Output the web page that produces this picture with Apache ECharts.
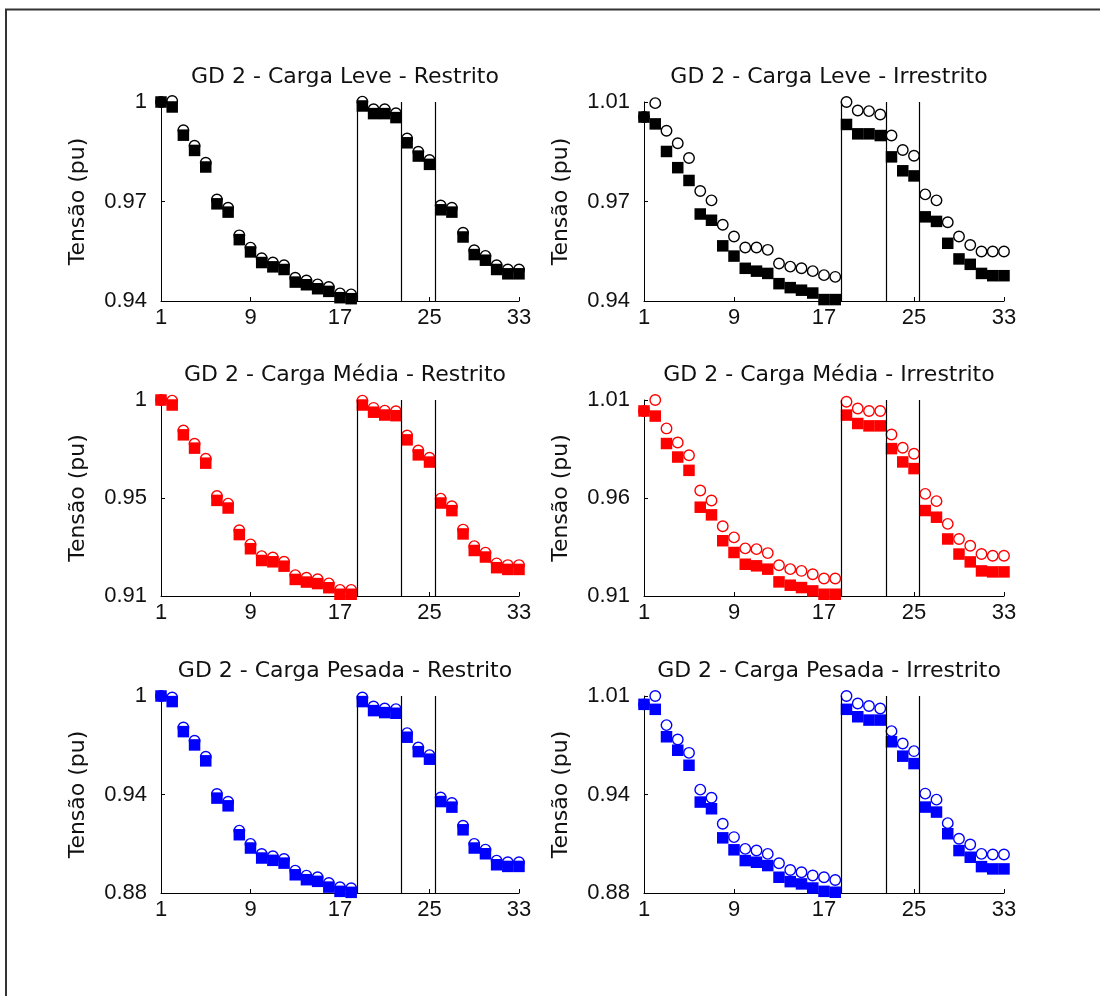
<!DOCTYPE html>
<html>
<head>
<meta charset="utf-8">
<script src="https://cdn.jsdelivr.net/npm/echarts@6/dist/echarts.min.js"></script>
<style>html,body{margin:0;padding:0;background:#fff}#c{width:1100px;height:996px}</style>
</head>
<body>
<div id="c"></div>
<script>
// ---------- data ----------
const buses = [1,2,3,4,5,6,7,8,9,10,11,12,13,14,15,16,17,18,19,20,21,22,23,24,25,26,27,28,29,30,31,32,33];
const xTickValues = [1, 9, 17, 25, 33];
const separators = [18.5, 22.5, 25.5];

const titles = [
  'GD 2 - Carga Leve - Restrito',
  'GD 2 - Carga Leve - Irrestrito',
  'GD 2 - Carga Média - Restrito',
  'GD 2 - Carga Média - Irrestrito',
  'GD 2 - Carga Pesada - Restrito',
  'GD 2 - Carga Pesada - Irrestrito'
];
const yAxisName = 'Tensão (pu)';
const yMin = [0.94, 0.94, 0.91, 0.91, 0.88, 0.88];
const yMax = [1.00, 1.01, 1.00, 1.01, 1.00, 1.01];
const yTickValues = [
  [0.94, 0.97, 1.00],
  [0.94, 0.975, 1.01],
  [0.91, 0.955, 1.00],
  [0.91, 0.96, 1.01],
  [0.88, 0.94, 1.00],
  [0.88, 0.945, 1.01]
];
const yTickLabels = [
  ['0.94', '0.97', '1'],
  ['0.94', '0.97', '1.01'],
  ['0.91', '0.95', '1'],
  ['0.91', '0.96', '1.01'],
  ['0.88', '0.94', '1'],
  ['0.88', '0.94', '1.01']
];
const panelColors = ['#000000', '#000000', '#ff0000', '#ff0000', '#0000ff', '#0000ff'];

// squares (filled) and circles (open), one pair per panel
const leveRestritoSq = [1.000,0.9985,0.9900,0.9854,0.9804,0.9693,0.9668,0.9585,0.9548,0.9516,0.9503,0.9495,0.9457,0.9449,0.9437,0.9429,0.9410,0.9407,0.9988,0.9965,0.9965,0.9953,0.9877,0.9837,0.9812,0.9675,0.9668,0.9593,0.9540,0.9523,0.9495,0.9482,0.9482];
const leveRestritoCi = [1.000,1.0003,0.9915,0.9868,0.9817,0.9706,0.9681,0.9598,0.9561,0.9529,0.9516,0.9508,0.9470,0.9462,0.9450,0.9442,0.9423,0.9420,1.0001,0.9978,0.9978,0.9966,0.9890,0.9850,0.9825,0.9688,0.9681,0.9606,0.9553,0.9536,0.9508,0.9495,0.9495];

const leveIrrestritoSq = [1.0047,1.0023,0.9926,0.9869,0.9824,0.9706,0.9684,0.9594,0.9558,0.9515,0.9505,0.9497,0.9461,0.9447,0.9438,0.9428,0.9405,0.9405,1.0021,0.9988,0.9988,0.9982,0.9907,0.9858,0.9840,0.9696,0.9680,0.9603,0.9548,0.9529,0.9497,0.9489,0.9489];
const leveIrrestritoCi = [1.0047,1.0096,0.9999,0.9955,0.9903,0.9787,0.9754,0.9668,0.9627,0.9588,0.9588,0.9580,0.9532,0.9521,0.9515,0.9505,0.9491,0.9485,1.0100,1.0070,1.0068,1.0056,0.9982,0.9931,0.9911,0.9775,0.9754,0.9677,0.9627,0.9597,0.9574,0.9574,0.9574];

const mediaRestritoSq = [1.000,0.9977,0.9840,0.9779,0.9710,0.9539,0.9504,0.9382,0.9317,0.9263,0.9257,0.9237,0.9176,0.9164,0.9157,0.9138,0.9108,0.9108,0.9977,0.9944,0.9931,0.9928,0.9817,0.9748,0.9715,0.9527,0.9492,0.9385,0.9309,0.9279,0.9230,0.9222,0.9222];
const mediaRestritoCi = [1.000,0.9997,0.9860,0.9799,0.9730,0.9559,0.9524,0.9402,0.9337,0.9283,0.9277,0.9257,0.9196,0.9184,0.9177,0.9158,0.9128,0.9128,0.9997,0.9964,0.9951,0.9948,0.9837,0.9768,0.9735,0.9547,0.9512,0.9405,0.9329,0.9299,0.9250,0.9242,0.9242];

const mediaIrrestritoSq = [1.0044,1.0018,0.9878,0.9809,0.9741,0.9553,0.9514,0.9382,0.9322,0.9262,0.9254,0.9237,0.9172,0.9155,0.9143,0.9126,0.9109,0.9109,1.0023,0.9980,0.9968,0.9968,0.9852,0.9784,0.9750,0.9536,0.9502,0.9391,0.9314,0.9274,0.9228,0.9223,0.9223];
const mediaIrrestritoCi = [1.0044,1.0100,0.9955,0.9883,0.9818,0.9638,0.9587,0.9456,0.9399,0.9343,0.9339,0.9319,0.9257,0.9237,0.9228,0.9211,0.9189,0.9189,1.0091,1.0057,1.0044,1.0044,0.9924,0.9856,0.9826,0.9621,0.9584,0.9468,0.9391,0.9356,0.9314,0.9305,0.9305];

const pesadaRestritoSq = [1.000,0.9966,0.9783,0.9702,0.9605,0.9378,0.9331,0.9155,0.9074,0.9013,0.8999,0.8982,0.8911,0.8881,0.8871,0.8836,0.8810,0.8804,0.9966,0.9911,0.9899,0.9895,0.9749,0.9661,0.9615,0.9357,0.9323,0.9185,0.9074,0.9039,0.8972,0.8962,0.8962];
const pesadaRestritoCi = [1.000,0.9991,0.9808,0.9727,0.9630,0.9403,0.9356,0.9180,0.9099,0.9038,0.9024,0.9007,0.8936,0.8906,0.8896,0.8861,0.8835,0.8829,0.9991,0.9936,0.9924,0.9920,0.9774,0.9686,0.9640,0.9382,0.9348,0.9210,0.9099,0.9064,0.8997,0.8987,0.8987];

const pesadaIrrestritoSq = [1.0045,1.0012,0.9831,0.9742,0.9643,0.9400,0.9356,0.9164,0.9085,0.9014,0.9003,0.8981,0.8904,0.8875,0.8860,0.8833,0.8811,0.8805,1.0012,0.9963,0.9941,0.9941,0.9798,0.9703,0.9654,0.9367,0.9334,0.9191,0.9080,0.9036,0.8974,0.8959,0.8959];
const pesadaIrrestritoCi = [1.0045,1.0100,0.9908,0.9813,0.9725,0.9482,0.9429,0.9257,0.9169,0.9091,0.9080,0.9058,0.8996,0.8952,0.8937,0.8915,0.8904,0.8886,1.0100,1.0051,1.0034,1.0018,0.9868,0.9787,0.9736,0.9456,0.9416,0.9261,0.9158,0.9120,0.9058,0.9054,0.9054];

const squareSeries = [leveRestritoSq, leveIrrestritoSq, mediaRestritoSq, mediaIrrestritoSq, pesadaRestritoSq, pesadaIrrestritoSq];
const circleSeries = [leveRestritoCi, leveIrrestritoCi, mediaRestritoCi, mediaIrrestritoCi, pesadaRestritoCi, pesadaIrrestritoCi];

// ---------- layout ----------
const colLeft = [161, 644];
const colWidth = [358, 360];
const rowTop = [102, 400, 696];
const rowHeight = [199, 196, 197];

const TICK_FONT = '"Liberation Sans", Arial, sans-serif';
const TEXT_FONT = '"DejaVu Sans", sans-serif';

const grids = [], xAxes = [], yAxes = [], series = [], titleList = [];
for (let p = 0; p < 6; p++) {
  const c = p % 2, r = Math.floor(p / 2);
  grids.push({ left: colLeft[c], top: rowTop[r], width: colWidth[c], height: rowHeight[r], containLabel: false });
  titleList.push({
    text: titles[p],
    left: colLeft[c] + colWidth[c] / 2,
    top: rowTop[r] - 41,
    textAlign: 'center',
    textStyle: { fontFamily: TEXT_FONT, fontSize: 22, fontWeight: 'normal', color: '#111' }
  });
  xAxes.push({
    type: 'value', gridIndex: p, min: 1, max: 33,
    axisLine: { show: true, lineStyle: { color: '#000', width: 1 } },
    axisTick: { show: true, inside: true, length: 4, customValues: xTickValues, lineStyle: { color: '#000' } },
    axisLabel: { show: true, customValues: xTickValues, margin: 6, fontFamily: TICK_FONT, fontSize: 22, color: '#111',
      formatter: v => String(Math.round(v)) },
    splitLine: { show: false }
  });
  const tv = yTickValues[p], tl = yTickLabels[p];
  yAxes.push({
    type: 'value', gridIndex: p, min: yMin[p], max: yMax[p],
    name: yAxisName, nameLocation: 'middle', nameGap: 72,
    nameTextStyle: { fontFamily: TEXT_FONT, fontSize: 22, color: '#111' },
    axisLine: { show: true, lineStyle: { color: '#000', width: 1 } },
    axisTick: { show: true, inside: true, length: 4, customValues: tv, lineStyle: { color: '#000' } },
    axisLabel: { show: true, customValues: tv, margin: 14, fontFamily: TICK_FONT, fontSize: 22, color: '#111',
      formatter: v => { for (let i = 0; i < tv.length; i++) if (Math.abs(v - tv[i]) < 1e-6) return tl[i]; return ''; } },
    splitLine: { show: false }
  });
  series.push({
    type: 'scatter', xAxisIndex: p, yAxisIndex: p, clip: false,
    symbol: 'rect', symbolSize: 11.5,
    itemStyle: { color: panelColors[p], opacity: 1 },
    data: buses.map((b, i) => [b, squareSeries[p][i]]),
    markLine: {
      silent: true, symbol: 'none', animation: false,
      label: { show: false },
      lineStyle: { color: '#000', width: 1.2, type: 'solid', opacity: 1 },
      data: separators.map(s => ({ xAxis: s }))
    },
    animation: false
  });
  series.push({
    type: 'scatter', xAxisIndex: p, yAxisIndex: p, clip: false,
    symbol: 'circle', symbolSize: 10.5,
    itemStyle: { color: 'rgba(255,255,255,0)', borderColor: panelColors[p], borderWidth: 1.4, opacity: 1 },
    data: buses.map((b, i) => [b, circleSeries[p][i]]),
    animation: false
  });
}

const chart = echarts.init(document.getElementById('c'), null, { renderer: 'canvas' });
chart.setOption({
  backgroundColor: '#ffffff',
  animation: false,
  title: titleList,
  grid: grids,
  xAxis: xAxes,
  yAxis: yAxes,
  series: series,
  graphic: [{
    type: 'polyline',
    shape: { points: [[6, 996], [6, 9.5], [1100, 9.5]] },
    style: { stroke: '#333', lineWidth: 2, fill: null },
    silent: true
  }]
});
</script>
</body>
</html>
